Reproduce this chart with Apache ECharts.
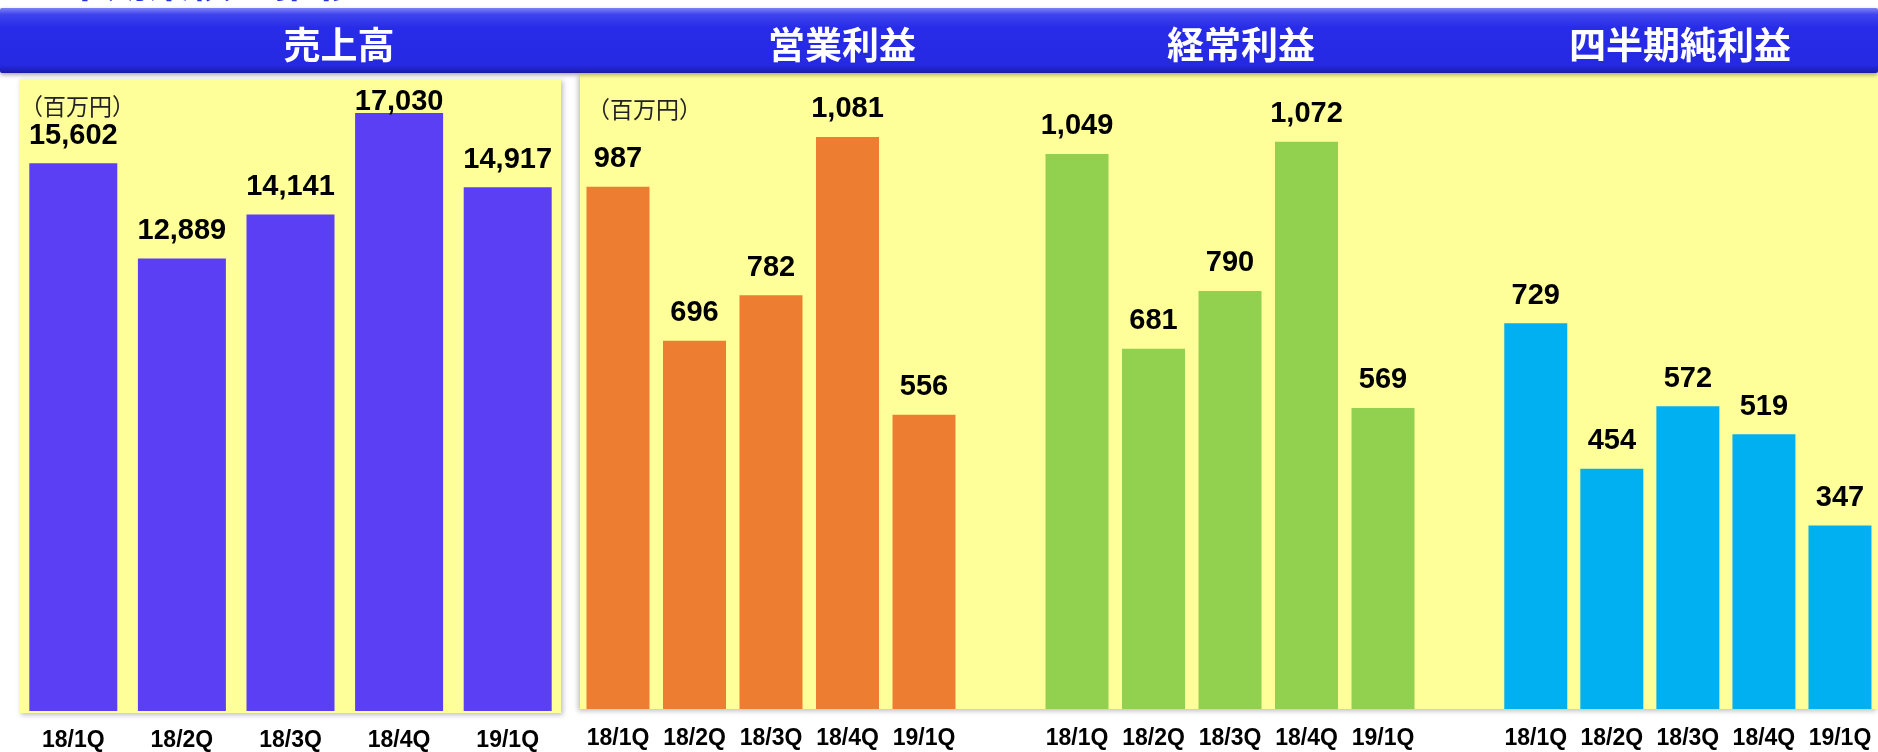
<!DOCTYPE html>
<html>
<head>
<meta charset="utf-8">
<script src="https://cdn.jsdelivr.net/npm/echarts@6/dist/echarts.min.js"></script>
<style>
  html, body { margin: 0; padding: 0; background: #fff; }
  #chart { width: 1878px; height: 752px; }
</style>
</head>
<body>
<div id="chart"></div>
<script>
// 四半期ごとの実績（百万円）
const quarters = ['18/1Q', '18/2Q', '18/3Q', '18/4Q', '19/1Q'];
const sales = [15602, 12889, 14141, 17030, 14917];
const operatingProfit = [987, 696, 782, 1081, 556];
const ordinaryProfit = [1049, 681, 790, 1072, 569];
const netProfit = [729, 454, 572, 519, 347];
const panelTitles = ['売上高', '営業利益', '経常利益', '四半期純利益'];
const unitLabel = '（百万円）';
const pageTitle = '四半期業績の推移';

const chart = echarts.init(document.getElementById('chart'));

const numFont = '"Liberation Sans", Arial, sans-serif';
const jpFont = '"Noto Sans CJK JP", sans-serif';

const profitSets = [operatingProfit, ordinaryProfit, netProfit];
const barColors = ['#5B3FF5', '#ED7D31', '#92D050', '#00B0F0'];

// 右側3グループの配置
const groupLeft = 579.75;
const groupStep = 459;
const groupWidth = 382.5;

const grids = [{ left: 19, top: 79, width: 543, height: 633 }];
profitSets.forEach((_, i) => {
  grids.push({ left: groupLeft + i * groupStep, top: 74, width: groupWidth, height: 635 });
});

const xAxes = grids.map((g, i) => ({
  type: 'category',
  gridIndex: i,
  data: quarters,
  axisLine: { show: false },
  axisTick: { show: false },
  axisLabel: {
    interval: 0,
    margin: 18,
    fontSize: 23,
    fontWeight: 'bold',
    color: '#000',
    fontFamily: numFont
  }
}));

const yAxes = grids.map((g, i) => ({
  type: 'value',
  gridIndex: i,
  min: 0,
  max: i === 0 ? 18000 : 1200,
  show: false,
  splitLine: { show: false }
}));

const valueLabel = {
  show: true,
  position: 'top',
  distance: 13,
  fontSize: 29,
  fontWeight: 'bold',
  color: '#000',
  fontFamily: numFont,
  formatter: (p) => p.value.toLocaleString('en-US')
}

const salesMax = Math.max(...sales);
const series = [{
  type: 'bar',
  xAxisIndex: 0,
  yAxisIndex: 0,
  barWidth: 88,
  // 最大値のラベルは枠内に収めるため棒に寄せる
  data: sales.map(v => v === salesMax ? { value: v, label: { distance: -3 } } : v),
  itemStyle: { color: barColors[0] },
  label: valueLabel
}];
profitSets.forEach((values, i) => {
  series.push({
    type: 'bar',
    xAxisIndex: i + 1,
    yAxisIndex: i + 1,
    barWidth: 63,
    data: values,
    itemStyle: { color: barColors[i + 1] },
    label: valueLabel
  });
});

const titleX = [339, 842, 1241, 1680];

const graphic = [
  {
    type: 'text', left: 22, top: -40, z: 1,
    style: { text: pageTitle, fontSize: 42, fontWeight: 'bold', fill: '#2634d6', fontFamily: jpFont }
  },
  {
    type: 'rect', shape: { x: 0, y: 8, width: 1878, height: 65, r: 2 }, z: 1,
    style: {
      fill: new echarts.graphic.LinearGradient(0, 0, 0, 1, [
        { offset: 0, color: '#7d82f6' },
        { offset: 0.1, color: '#3f44ee' },
        { offset: 0.3, color: '#282ce8' },
        { offset: 0.88, color: '#2629e2' },
        { offset: 1, color: '#1a1ca6' }
      ]),
      shadowBlur: 4, shadowOffsetY: 2, shadowColor: 'rgba(0,0,0,0.35)'
    }
  },
  {
    type: 'rect', shape: { x: 19, y: 79, width: 542, height: 634 }, z: 0,
    style: { fill: '#FFFF99', shadowBlur: 5, shadowOffsetX: 2, shadowOffsetY: 2, shadowColor: 'rgba(0,0,0,0.25)' }
  },
  {
    type: 'rect', shape: { x: 580, y: 74, width: 1298, height: 635 }, z: 0,
    style: { fill: '#FFFF99', shadowBlur: 5, shadowOffsetX: -2, shadowOffsetY: 2, shadowColor: 'rgba(0,0,0,0.25)' }
  },
  {
    type: 'text', x: 20, y: 106, z: 3,
    style: { text: unitLabel, fontSize: 23, fill: '#222', fontFamily: jpFont, verticalAlign: 'middle' }
  },
  {
    type: 'text', x: 587, y: 109, z: 3,
    style: { text: unitLabel, fontSize: 23, fill: '#222', fontFamily: jpFont, verticalAlign: 'middle' }
  }
];
panelTitles.forEach((t, i) => {
  graphic.push({
    type: 'text', x: titleX[i], y: 45, z: 3,
    style: {
      text: t, fontSize: 37, fontWeight: 'bold', fill: '#fff', fontFamily: jpFont,
      align: 'center', verticalAlign: 'middle'
    }
  });
});

chart.setOption({
  animation: false,
  backgroundColor: '#fff',
  grid: grids,
  xAxis: xAxes,
  yAxis: yAxes,
  series: series,
  graphic: graphic
});
</script>
</body>
</html>
